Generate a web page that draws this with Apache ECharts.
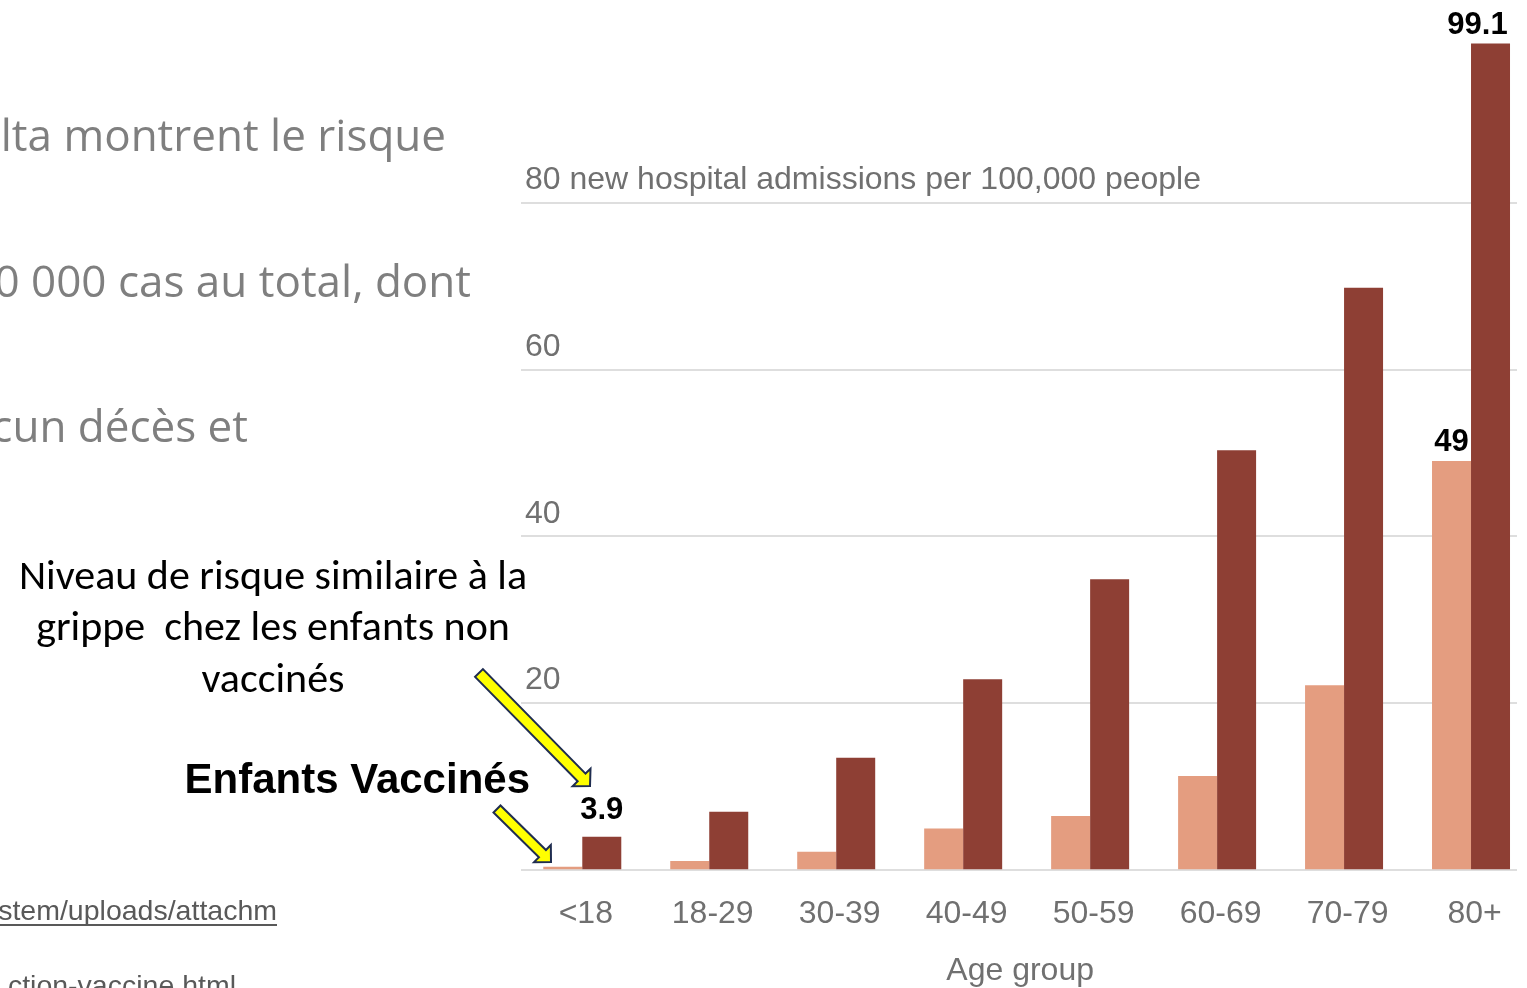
<!DOCTYPE html>
<html>
<head>
<meta charset="utf-8">
<title>Hospital admissions by age group</title>
<script src="https://cdn.jsdelivr.net/npm/echarts@6/dist/echarts.min.js"></script>
<style>
  html, body { margin: 0; padding: 0; background: #ffffff; }
  #chart { width: 1527px; height: 988px; }
</style>
</head>
<body>
<div id="chart"></div>
<script>
// Age groups shown along the bottom axis
const ageGroups = ['<18', '18-29', '30-39', '40-49', '50-59', '60-69', '70-79', '80+'];
// New hospital admissions per 100,000 people
const vaccinated = [0.3, 1.0, 2.1, 4.9, 6.4, 11.2, 22.1, 49];
const unvaccinated = [3.9, 6.9, 13.4, 22.8, 34.8, 50.3, 69.8, 99.1];
// Bars that carry a value label (indices into ageGroups)
const vaccinatedLabeled = [7];
const unvaccinatedLabeled = [0, 7];
// Value-axis tick labels
const yTickLabels = { 20: '20', 40: '40', 60: '60', 80: '80 new hospital admissions per 100,000 people' };
const xAxisTitle = 'Age group';

// Slide text around the chart
const slideLines = ['lta montrent le risque', '0 000 cas au total, dont', 'cun décès et'];
const noteLines = ['Niveau de risque similaire à la', 'grippe  chez les enfants non', 'vaccinés'];
const vaccinatedNote = 'Enfants Vaccinés';
const sourceLines = ['stem/uploads/attachm', 'ction-vaccine.html'];

const DARK = '#8e3f34';
const LIGHT = '#e49d80';
const AXIS_GREY = '#707070';
const CHART_FONT = '"Liberation Sans", Arial, sans-serif';

const chart = echarts.init(document.getElementById('chart'), null, { renderer: 'canvas' });

// Per-bar label tweaks (position only)
const labelTweaks = {
  unvaccinated: { 0: { distance: 11 }, 7: { offset: [-13, 0] } },
  vaccinated: {}
};

function withLabels(values, labeled, tweaks) {
  return values.map((v, i) => {
    if (!labeled.includes(i)) return v;
    return { value: v, label: Object.assign({ show: true }, tweaks[i] || {}) };
  });
}

const valueLabel = {
  show: false,
  position: 'top',
  distance: 3,
  color: '#000000',
  fontFamily: CHART_FONT,
  fontWeight: 'bold',
  fontSize: 31,
  formatter: p => String(p.value)
};

// Arrow outline as a polygon from tail to tip
function arrowPoints(x1, y1, x2, y2, shaftW, headW, headL) {
  const dx = x2 - x1, dy = y2 - y1;
  const len = Math.hypot(dx, dy);
  const ux = dx / len, uy = dy / len;
  const nx = -uy, ny = ux;
  const bx = x2 - ux * headL, by = y2 - uy * headL;
  const s = shaftW / 2, h = headW / 2;
  return [
    [x1 + nx * s, y1 + ny * s],
    [bx + nx * s, by + ny * s],
    [bx + nx * h, by + ny * h],
    [x2, y2],
    [bx - nx * h, by - ny * h],
    [bx - nx * s, by - ny * s],
    [x1 - nx * s, y1 - ny * s]
  ];
}

const arrowStyle = { fill: '#ffff00', stroke: '#1f2d50', lineWidth: 2 };

const graphics = [];
// Slide body text, clipped at the left edge
const slideRight = [446, 471, 248];
const slideBaseline = [152, 298, 443];
slideLines.forEach((t, i) => {
  graphics.push({
    type: 'text', x: slideRight[i], y: slideBaseline[i] - 14,
    style: { text: t, align: 'right', verticalAlign: 'middle', fill: '#7f7f7f',
             font: '44px "Open Sans", sans-serif' }
  });
});
// Annotation about unvaccinated children
noteLines.forEach((t, i) => {
  graphics.push({
    type: 'text', x: 273, y: 578 + i * 51.5,
    style: { text: t, align: 'center', verticalAlign: 'middle', fill: '#000000',
             font: '42px Carlito, Lato, sans-serif' }
  });
});
graphics.push({
  type: 'text', x: 530, y: 781,
  style: { text: vaccinatedNote, align: 'right', verticalAlign: 'middle', fill: '#000000',
           font: 'bold 42px "Liberation Sans", Arial, sans-serif' }
});
// Source links
const srcRight = [277, 236];
const srcMid = [912, 987];
sourceLines.forEach((t, i) => {
  graphics.push({
    type: 'text', x: srcRight[i], y: srcMid[i],
    style: { text: t, align: 'right', verticalAlign: 'middle', fill: '#595959',
             font: '28.5px "Liberation Sans", Arial, sans-serif' }
  });
});
graphics.push({
  type: 'line', shape: { x1: 0, y1: 925, x2: 277, y2: 925 },
  style: { stroke: '#595959', lineWidth: 2 }
});
// Pointer arrows
graphics.push({
  type: 'polygon', shape: { points: arrowPoints(479, 673, 590, 786, 11, 25, 12) },
  style: arrowStyle, z: 10
});
graphics.push({
  type: 'polygon', shape: { points: arrowPoints(497, 809, 551, 862, 10, 24, 12) },
  style: arrowStyle, z: 10
});

const option = {
  backgroundColor: '#ffffff',
  animation: false,
  grid: [
    // gridlines and value labels
    { left: 521, width: 996, top: 36, height: 833.3, containLabel: false, outerBoundsMode: 'none' },
    // bars
    { left: 518.8, width: 1015.7, top: 36, height: 833.3, containLabel: false, outerBoundsMode: 'none' }
  ],
  xAxis: [
    { gridIndex: 0, type: 'value', min: 0, max: 1, show: false },
    {
      gridIndex: 1, type: 'category', data: ageGroups,
      axisLine: { show: false }, axisTick: { show: false },
      axisLabel: { color: AXIS_GREY, fontFamily: CHART_FONT, fontSize: 32, margin: 29, padding: [0, 0, 0, 7] },
      name: xAxisTitle, nameLocation: 'middle', nameGap: 86,
      nameTextStyle: { color: AXIS_GREY, fontFamily: CHART_FONT, fontSize: 32, padding: [0, 13, 0, 0] }
    }
  ],
  yAxis: [
    {
      gridIndex: 0, type: 'value', min: 0, max: 100, interval: 20,
      axisLine: { show: false }, axisTick: { show: false },
      splitLine: { show: true, showMaxLine: false, lineStyle: { color: '#dedede', width: 2 } },
      axisLabel: {
        inside: true, margin: 4, align: 'left', verticalAlign: 'bottom',
        color: AXIS_GREY, fontFamily: CHART_FONT, fontSize: 32, lineHeight: 32,
        padding: [0, 0, 6, 0],
        formatter: v => yTickLabels[v] || ''
      }
    },
    { gridIndex: 1, type: 'value', min: 0, max: 100, interval: 20, show: false, splitLine: { show: false } }
  ],
  series: [
    {
      name: 'Vaccinated', type: 'bar', xAxisIndex: 1, yAxisIndex: 1,
      barWidth: 39, barGap: '0%',
      itemStyle: { color: LIGHT },
      label: valueLabel,
      data: withLabels(vaccinated, vaccinatedLabeled, labelTweaks.vaccinated)
    },
    {
      name: 'Unvaccinated', type: 'bar', xAxisIndex: 1, yAxisIndex: 1,
      barWidth: 39, barGap: '0%',
      itemStyle: { color: DARK },
      label: valueLabel,
      data: withLabels(unvaccinated, unvaccinatedLabeled, labelTweaks.unvaccinated)
    }
  ],
  graphic: { elements: graphics }
};

chart.setOption(option);
</script>
</body>
</html>
